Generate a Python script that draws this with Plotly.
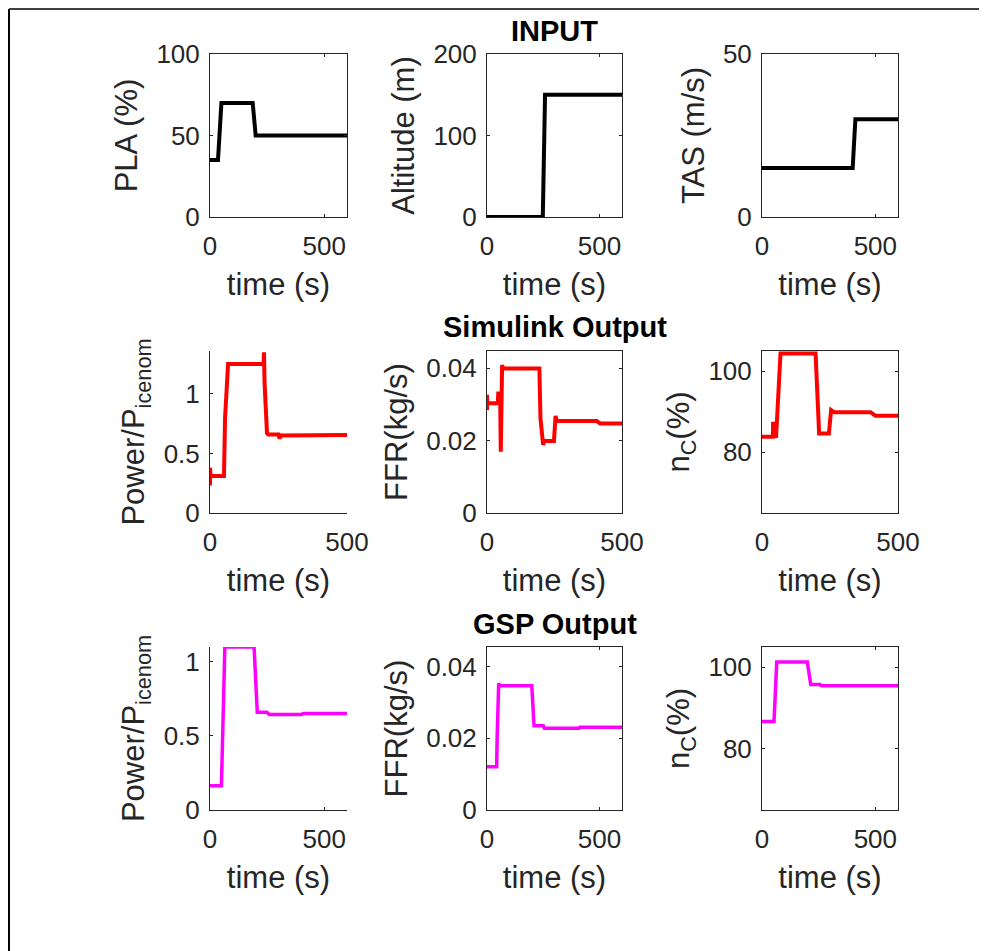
import plotly.graph_objects as go

W, H = 987, 951
OFF = 8  # page body margin offset compensation (pixels)

# ---------------- data ----------------
pla_t = [0, 35, 50, 187, 200, 600]
pla_v = [35, 35, 70, 70, 50, 50]
alt_t = [0, 248, 258, 600]
alt_v = [0, 0, 150, 150]
tas_t = [0, 400, 412, 600]
tas_v = [15, 15, 30, 30]

sim_pow_t = [0, 0, 0, 2, 51, 53, 55, 66, 196, 197, 199, 208, 212, 250, 254, 258, 300, 400, 500]
sim_pow_v = [0.31, 0.23, 0.38, 0.31, 0.31, 0.80, 0.80, 1.25, 1.25, 1.35, 1.10, 0.67, 0.66, 0.66, 0.625, 0.65, 0.65, 0.65, 0.655]

sim_ffr_t = [0, 0, 0, 1, 40, 42, 44, 49, 51, 56, 60, 194, 198, 208, 212, 248, 254, 258, 406, 419, 500]
sim_ffr_v = [0.0303, 0.0284, 0.0326, 0.0303, 0.0303, 0.0335, 0.0303, 0.0303, 0.0169, 0.0408, 0.0399,
             0.0399, 0.0261, 0.0188, 0.0199, 0.0199, 0.0268, 0.0254, 0.0254, 0.0247, 0.0247]

sim_nc_t = [0, 40, 41, 43, 52, 68, 197, 210, 246, 254, 265, 399, 417, 500]
sim_nc_v = [83.8, 83.8, 87.5, 84.0, 84.0, 104.4, 104.4, 84.6, 84.6, 90.4, 89.9, 89.9, 89.0, 89.0]

gsp_pow_t = [0, 50, 65, 193, 207, 248, 260, 400, 410, 600]
gsp_pow_v = [0.163, 0.163, 1.10, 1.10, 0.66, 0.66, 0.645, 0.645, 0.652, 0.652]

gsp_ffr_t = [0, 43, 45, 52, 56, 199, 209, 250, 255, 409, 412, 600]
gsp_ffr_v = [0.0121, 0.0121, 0.020, 0.0354, 0.0347, 0.0347, 0.0235, 0.0235, 0.0228, 0.0228, 0.0231, 0.0231]

gsp_nc_t = [0, 53, 65, 200, 215, 256, 262, 600]
gsp_nc_v = [86.7, 86.7, 101.3, 101.3, 95.8, 95.8, 95.5, 95.5]

row_titles = ["INPUT", "Simulink Output", "GSP Output"]

# ---------------- layout helpers ----------------
FONT = "Liberation Sans, Arial, Helvetica, sans-serif"
AX = "#262626"


def px(x):
    return (x - OFF) / W


def py(y):
    return 1 - (y - OFF) / H


cols = [(210, 347), (487, 622), (762, 898)]
rows = [(54, 217), (351, 513), (647, 810)]

panels = [
    # (row, col, t, v, color, width, xmax, yrange, yticks, ylabel, box)
    (0, 0, pla_t, pla_v, "black", 4, 600, [0, 100], [0, 50, 100], "PLA (%)", True),
    (0, 1, alt_t, alt_v, "black", 4, 600, [0, 200], [0, 100, 200], "Altitude (m)", True),
    (0, 2, tas_t, tas_v, "black", 4, 600, [0, 50], [0, 50], "TAS (m/s)", True),
    (1, 0, sim_pow_t, sim_pow_v, "#ff0000", 4, 500, [0, 1.36], [0, 0.5, 1], "Power/P<sub>icenom</sub>", False),
    (1, 1, sim_ffr_t, sim_ffr_v, "#ff0000", 4, 500, [0, 0.0447], [0, 0.02, 0.04], "FFR(kg/s)", True),
    (1, 2, sim_nc_t, sim_nc_v, "#ff0000", 4, 500, [65, 105], [80, 100], "n<sub>C</sub>(%)", True),
    (2, 0, gsp_pow_t, gsp_pow_v, "#ff00ff", 3.5, 600, [0, 1.1], [0, 0.5, 1], "Power/P<sub>icenom</sub>", False),
    (2, 1, gsp_ffr_t, gsp_ffr_v, "#ff00ff", 3.5, 600, [0, 0.0455], [0, 0.02, 0.04], "FFR(kg/s)", True),
    (2, 2, gsp_nc_t, gsp_nc_v, "#ff00ff", 3.5, 600, [65, 105], [80, 100], "n<sub>C</sub>(%)", True),
]

fig = go.Figure()
layout = dict(
    width=W, height=H,
    margin=dict(l=0, r=0, t=0, b=0, pad=0, autoexpand=False),
    paper_bgcolor="white", plot_bgcolor="white",
    showlegend=False,
    font=dict(family=FONT, color=AX),
)

for i, (r, c, t, v, color, lw, xmax, yr, yt, ylab, box) in enumerate(panels):
    n = "" if i == 0 else str(i + 1)
    fig.add_trace(go.Scatter(x=t, y=v, mode="lines",
                             line=dict(color=color, width=lw),
                             xaxis="x" + n, yaxis="y" + n, hoverinfo="skip"))
    x0, x1 = cols[c]
    y0, y1 = rows[r]
    mirror = "ticks" if box else False
    layout["xaxis" + n] = dict(
        domain=[px(x0), px(x1)], anchor="y" + n, range=[0, xmax],
        tickvals=[0, 500], ticktext=["0", "500"],
        showline=True, linecolor=AX, linewidth=1, mirror=mirror,
        ticks="inside", ticklen=3, tickcolor=AX, tickwidth=1,
        showgrid=False, zeroline=False, automargin=False,
        tickfont=dict(size=26, family=FONT, color=AX),
        ticklabelstandoff=6,
        title=dict(text="time (s)", font=dict(size=31, family=FONT, color=AX), standoff=13),
    )
    layout["yaxis" + n] = dict(
        domain=[py(y1), py(y0)], anchor="x" + n, range=yr,
        tickvals=yt,
        showline=True, linecolor=AX, linewidth=1, mirror=mirror,
        ticks="inside", ticklen=3, tickcolor=AX, tickwidth=1,
        showgrid=False, zeroline=False, automargin=False,
        tickfont=dict(size=26, family=FONT, color=AX),
        ticklabelstandoff=4,
        title=dict(text=ylab, font=dict(size=31, family=FONT, color=AX), standoff=9),
    )

title_y = [31, 327, 624]
annotations = []
for txt, ty in zip(row_titles, title_y):
    annotations.append(dict(
        text="<b>" + txt + "</b>", x=px(554.5), y=py(ty), xref="paper", yref="paper",
        xanchor="center", yanchor="middle", showarrow=False,
        font=dict(size=29, family=FONT, color="black"),
    ))
layout["annotations"] = annotations

layout["shapes"] = [
    dict(type="line", xref="paper", yref="paper", x0=px(9), x1=px(9), y0=0, y1=py(9),
         line=dict(color="black", width=2)),
    dict(type="line", xref="paper", yref="paper", x0=px(9), x1=1, y0=py(9), y1=py(9),
         line=dict(color="black", width=1.5)),
]

fig.update_layout(**layout)
fig.write_html("out.html")
